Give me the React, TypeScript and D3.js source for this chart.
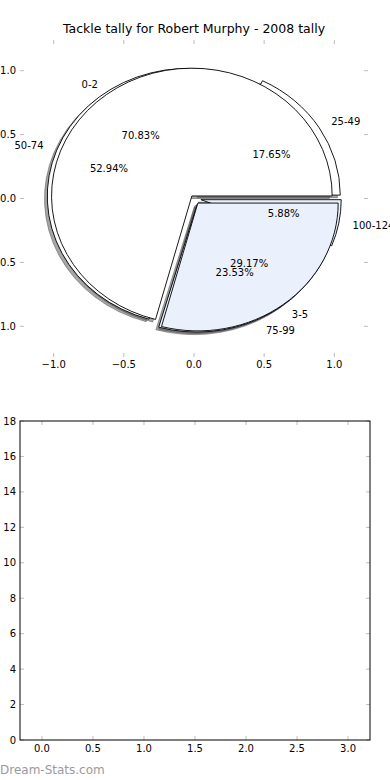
import React from "react";
import * as d3 from "d3";

// two pies drawn into the same axes, pie B first, pie A on top
const pieALabels = ["0-2", "3-5"];
const pieAValues = [17, 7];
const pieBLabels = ["25-49", "50-74", "75-99", "100-124"];
const pieBValues = [3, 9, 4, 1];

const topTicks = [-1, -0.5, 0, 0.5, 1];
const barXTicks = [0, 0.5, 1, 1.5, 2, 2.5, 3];
const barYTicks = [0, 2, 4, 6, 8, 10, 12, 14, 16, 18];

const W = 390;
const H = 780;
const FONT = "DejaVu Sans, sans-serif";
const LIGHT = "#eaf0fc";

const pieAColors = ["#ffffff", LIGHT];
const pieBColors = ["#ffffff", "#ffffff", LIGHT, LIGHT];
const pieAExplode = [0.025, 0.045];
const pieBExplode = [0.05, 0.05, 0.05, 0.05];

const fmt = (v: number) => (v < 0 ? "\u2212" : "") + Math.abs(v).toFixed(1);

function buildWedges(labels: string[], values: number[], colors: string[], explode: number[]) {
  const total = d3.sum(values);
  const arcs = d3
    .pie<number>()
    .sort(null)
    .value((d) => d)
    .startAngle(Math.PI / 2)
    .endAngle(Math.PI / 2 - 2 * Math.PI)(values);
  return arcs.map((a, i) => {
    const mid = (a.startAngle + a.endAngle) / 2;
    const ux = Math.sin(mid);
    const uy = -Math.cos(mid);
    return {
      arc: a,
      label: labels[i],
      pct: ((100 * values[i]) / total).toFixed(2) + "%",
      color: colors[i],
      ox: explode[i] * ux,
      oy: explode[i] * uy,
      ux,
      uy,
    };
  });
}

export default function App() {
  // top axes (pie)
  const x = d3.scaleLinear().domain([-1.24, 1.24]).range([20, 368]);
  const y = d3.scaleLinear().domain([-1.24, 1.24]).range([357, 40]);
  const cx = x(0);
  const cy = y(0);
  const kx = x(1) - x(0);
  const ky = y(-1) - y(0);

  const arcGen = d3.arc<d3.PieArcDatum<number>>().innerRadius(0).outerRadius(1);

  const wedgesB = buildWedges(pieBLabels, pieBValues, pieBColors, pieBExplode);
  const wedgesA = buildWedges(pieALabels, pieAValues, pieAColors, pieAExplode);
  const all = [...wedgesB, ...wedgesA];

  const shadowOff = 0.02;

  // bottom axes (empty bar chart)
  const bx = d3.scaleLinear().domain([-0.215, 3.215]).range([20, 370]);
  const by = d3.scaleLinear().domain([0, 18]).range([740, 421]);

  const tickColor = "#bdbdbd";

  return (
    <svg
      width={W}
      height={H}
      style={{ position: "absolute", left: 0, top: 0, background: "#fff" }}
      fontFamily={FONT}
    >
      <rect width={W} height={H} fill="#fff" />
      <text x={194} y={33} fontSize={12.5} textAnchor="middle">
        Tackle tally for Robert Murphy - 2008 tally
      </text>

      {/* top axes ticks */}
      {topTicks.map((t) => (
        <g key={"tx" + t}>
          <line x1={x(t)} x2={x(t)} y1={357} y2={353} stroke={tickColor} />
          <line x1={x(t)} x2={x(t)} y1={40} y2={44} stroke={tickColor} />
          <text x={x(t)} y={368} fontSize={10} textAnchor="middle">
            {fmt(t)}
          </text>
        </g>
      ))}
      {topTicks.map((t) => (
        <g key={"ty" + t}>
          <line x1={20} x2={24} y1={y(t)} y2={y(t)} stroke={tickColor} />
          <line x1={368} x2={364} y1={y(t)} y2={y(t)} stroke={tickColor} />
          <text x={16} y={y(t)} dy="0.35em" fontSize={10} textAnchor="end">
            {fmt(t)}
          </text>
        </g>
      ))}

      {/* shadows under every wedge */}
      {all.map((w, i) => (
        <path
          key={"s" + i}
          d={arcGen(w.arc) || ""}
          transform={`translate(${cx + kx * (w.ox - shadowOff)},${cy + ky * (w.oy + shadowOff)}) scale(${kx},${ky})`}
          fill="rgba(77,77,77,0.5)"
          stroke="rgba(77,77,77,0.5)"
          strokeWidth={1}
          vectorEffect="non-scaling-stroke"
        />
      ))}

      {/* wedges */}
      {all.map((w, i) => (
        <path
          key={"w" + i}
          d={arcGen(w.arc) || ""}
          transform={`translate(${cx + kx * w.ox},${cy + ky * w.oy}) scale(${kx},${ky})`}
          fill={w.color}
          stroke="#000"
          strokeWidth={0.9}
          strokeLinejoin="round"
          vectorEffect="non-scaling-stroke"
        />
      ))}

      {/* labels and percentages */}
      {all.map((w, i) => {
        const lx = w.ox + 1.1 * w.ux;
        const ly = w.oy + 1.1 * w.uy;
        const px = w.ox + 0.6 * w.ux;
        const py = w.oy + 0.6 * w.uy;
        return (
          <g key={"t" + i} fontSize={10}>
            <text
              x={cx + kx * lx}
              y={cy + ky * ly}
              dy="0.35em"
              textAnchor={lx > 0 ? "start" : "end"}
            >
              {w.label}
            </text>
            <text x={cx + kx * px} y={cy + ky * py} dy="0.35em" textAnchor="middle">
              {w.pct}
            </text>
          </g>
        );
      })}

      {/* bottom axes */}
      {barXTicks.map((t) => (
        <g key={"bx" + t}>
          <line x1={bx(t)} x2={bx(t)} y1={740} y2={736} stroke={tickColor} />
          <line x1={bx(t)} x2={bx(t)} y1={421} y2={425} stroke={tickColor} />
          <text x={bx(t)} y={752} fontSize={10} textAnchor="middle">
            {t.toFixed(1)}
          </text>
        </g>
      ))}
      {barYTicks.map((t) => (
        <g key={"by" + t}>
          <line x1={20} x2={24} y1={by(t)} y2={by(t)} stroke={tickColor} />
          <line x1={370} x2={366} y1={by(t)} y2={by(t)} stroke={tickColor} />
          <text x={16} y={by(t)} dy="0.35em" fontSize={10} textAnchor="end">
            {t}
          </text>
        </g>
      ))}
      <rect x={20} y={421} width={350} height={319} fill="none" stroke="#000" strokeWidth={1} />

      <text x={0} y={774} fontSize={12} fill="#9a9a9a">
        Dream-Stats.com
      </text>
    </svg>
  );
}
